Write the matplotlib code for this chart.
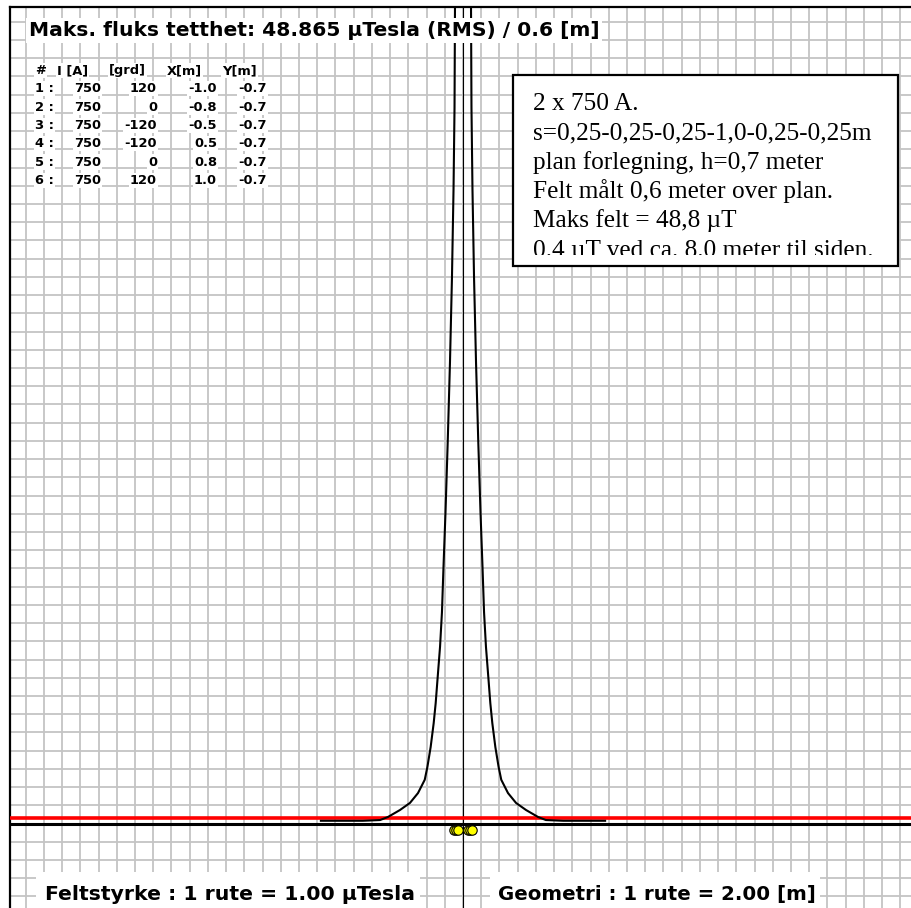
import numpy as np
import matplotlib
matplotlib.use("Agg")
import matplotlib.pyplot as plt
from matplotlib.patches import Rectangle

# ── data ──────────────────────────────────────────────────────────────────────
# field profile, right half (x in m from centre, B in µT); curve is symmetric
X_HALF = [0.0, 0.45, 0.88, 0.93, 1.04, 1.21, 1.43, 1.68, 1.92, 2.14, 2.31,
          2.52, 2.80, 3.00, 3.22, 3.55, 3.91, 4.20, 4.94, 5.82, 6.92, 8.23,
          9.10, 11.0, 13.0, 15.6]
B_HALF = [48.865, 47.5, 44.76, 39.3, 34.8, 30.0, 25.3, 20.9, 17.1, 14.1, 11.6,
          9.7, 7.9, 6.6, 5.5, 4.2, 3.1, 2.4, 1.67, 1.13, 0.74, 0.36,
          0.19, 0.15, 0.15, 0.15]

# cable table
CABLE_NO  = [1, 2, 3, 4, 5, 6]
CABLE_I   = [750, 750, 750, 750, 750, 750]
CABLE_DEG = [120, 0, -120, -120, 0, 120]
CABLE_X   = [-1.0, -0.8, -0.5, 0.5, 0.8, 1.0]
CABLE_Y   = [-0.7, -0.7, -0.7, -0.7, -0.7, -0.7]

REF_LEVEL   = 0.3     # red reference line, µT
UT_PER_RUTE = 1.0
M_PER_RUTE  = 2.0

TITLE = "Maks. fluks tetthet: 48.865 µTesla (RMS) / 0.6 [m]"
NOTE_LINES = [
    "2 x 750 A.",
    "s=0,25-0,25-0,25-1,0-0,25-0,25m",
    "plan forlegning, h=0,7 meter",
    "Felt målt 0,6 meter over plan.",
    "Maks felt = 48,8 µT",
    "0.4 µT ved ca. 8.0 meter til siden.",
]
LABEL_FIELD = "Feltstyrke : 1 rute = 1.00 µTesla"
LABEL_GEOM  = "Geometri : 1 rute = 2.00 [m]"

x_prof = np.concatenate([-np.array(X_HALF[::-1]), np.array(X_HALF[1:])])
b_prof = np.concatenate([np.array(B_HALF[::-1]), np.array(B_HALF[1:])])

# ── layout (pixel helpers) ────────────────────────────────────────────────────
W, H = 912, 908
X0, Y0 = 463.0, 823.5          # pixel position of x=0 m, B=0 µT
PX_RUTE = 18.22                 # grid square size in pixels
FRAME_L, FRAME_T = 10, 7


def fx(px):
    return px / W


def fy(py):
    return 1 - py / H


fig = plt.figure(figsize=(W / 100, H / 100), dpi=100)
ax = fig.add_axes([fx(FRAME_L), 0, 1 - fx(FRAME_L), fy(FRAME_T)])

px_per_m = PX_RUTE / M_PER_RUTE
px_per_ut = PX_RUTE / UT_PER_RUTE
ax.set_xlim((FRAME_L - X0) / px_per_m, (W - X0) / px_per_m)
ax.set_ylim((Y0 - H) / px_per_ut, (Y0 - FRAME_T) / px_per_ut)

ax.set_xticks(np.arange(-48, 50, M_PER_RUTE))
ax.set_yticks(np.arange(-4, 45, UT_PER_RUTE))
ax.tick_params(length=0, labelbottom=False, labelleft=False)
ax.grid(True, color="#c4c4c4", linewidth=1.3)
ax.set_axisbelow(True)
for s in ("right", "bottom"):
    ax.spines[s].set_visible(False)
for s in ("left", "top"):
    ax.spines[s].set_linewidth(1.6)
    ax.spines[s].set_color("black")

# axes lines
ax.axvline(0, color="black", linewidth=0.8, zorder=2)
ax.axhline(0, color="black", linewidth=2.2, zorder=2)
ax.axhline(REF_LEVEL, color="#ff0000", linewidth=2.6, zorder=3)

# field curve
ax.plot(x_prof, b_prof, color="black", linewidth=1.5, zorder=4)

# cables (geometry drawn at 2 m per square)
cy = np.array(CABLE_Y) / M_PER_RUTE * UT_PER_RUTE
ax.scatter(CABLE_X, cy, s=46, marker="o", facecolor="#ffff00",
           edgecolor="black", linewidth=0.8, zorder=5)

# ── title ─────────────────────────────────────────────────────────────────────
fig.text(fx(29), fy(36), TITLE, fontsize=14.6, family="DejaVu Sans",
         fontweight="bold", ha="left", va="baseline",
         bbox=dict(facecolor="white", edgecolor="none", pad=2))

# ── cable table ───────────────────────────────────────────────────────────────
tab_kw = dict(fontsize=9.4, family="DejaVu Sans", fontweight="bold",
              va="baseline",
              bbox=dict(facecolor="white", edgecolor="none", pad=0.8))
hdr_y = 74
fig.text(fx(35), fy(hdr_y), "#", ha="left", **tab_kw)
fig.text(fx(57), fy(hdr_y), "I [A]", ha="left", **tab_kw)
fig.text(fx(109), fy(hdr_y), "[grd]", ha="left", **tab_kw)
fig.text(fx(167), fy(hdr_y), "X[m]", ha="left", **tab_kw)
fig.text(fx(222), fy(hdr_y), "Y[m]", ha="left", **tab_kw)
for i, (n, cur, deg, xm, ym) in enumerate(zip(CABLE_NO, CABLE_I, CABLE_DEG,
                                               CABLE_X, CABLE_Y)):
    yy = fy(hdr_y + 18.3 * (i + 1))
    fig.text(fx(35), yy, f"{n} :", ha="left", **tab_kw)
    fig.text(fx(101), yy, f"{cur}", ha="right", **tab_kw)
    fig.text(fx(157), yy, f"{deg}", ha="right", **tab_kw)
    fig.text(fx(217), yy, f"{xm:.1f}", ha="right", **tab_kw)
    fig.text(fx(267), yy, f"{ym:.1f}", ha="right", **tab_kw)

# ── note box ──────────────────────────────────────────────────────────────────
bx0, by0, bx1, by1 = 513, 75, 898, 266
fig.patches.append(Rectangle((fx(bx0), fy(by1)), fx(bx1 - bx0), (by1 - by0) / H,
                             transform=fig.transFigure, facecolor="white",
                             edgecolor="black", linewidth=1.6, zorder=2))
clip = Rectangle((fx(bx0), fy(255)), fx(bx1 - bx0), (255 - by0) / H,
                 transform=fig.transFigure)
for i, line in enumerate(NOTE_LINES):
    t = fig.text(fx(533), fy(110 + 29.3 * i), line, fontsize=18.2,
                 family="Liberation Serif", ha="left", va="baseline", zorder=3)
    t.set_clip_path(clip)

# ── bottom scale labels ───────────────────────────────────────────────────────
for (l, r) in ((36, 420), (490, 820)):
    fig.patches.append(Rectangle((fx(l), 0), fx(r - l), (H - 872) / H,
                                 transform=fig.transFigure, facecolor="white",
                                 edgecolor="none", zorder=2))
fig.text(fx(45), fy(900), LABEL_FIELD, fontsize=14.7, family="DejaVu Sans",
         fontweight="bold", ha="left", va="baseline", zorder=3)
fig.text(fx(498), fy(900), LABEL_GEOM, fontsize=14.2, family="DejaVu Sans",
         fontweight="bold", ha="left", va="baseline", zorder=3)

fig.savefig("out.png", dpi=100)
